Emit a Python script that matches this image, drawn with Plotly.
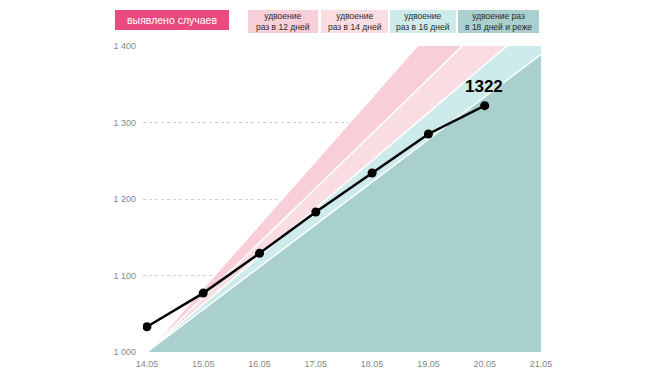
import plotly.graph_objects as go

# ---- data ----
dates = ["14.05", "15.05", "16.05", "17.05", "18.05", "19.05", "20.05", "21.05"]
cases = [1033, 1077, 1129, 1183, 1234, 1285, 1322]          # 14.05 .. 20.05
band_days = [18, 16, 14, 12]                                 # doubling periods
band_start = [1000, 1000, 1000, 1000]                        # value at 14.05
band_end = [1389, 1438, 1500, 1583]                          # value at 21.05
band_labels = ["удвоение раз<br>в 18 дней и реже", "удвоение<br>раз в 16 дней",
               "удвоение<br>раз в 14 дней", "удвоение<br>раз в 12 дней"]
band_colors = ["#a9cfce", "#cdebea", "#fadde3", "#f8cfd9"]
y_ticks = [1000, 1100, 1200, 1300, 1400]
y_ticktext = ["1 000", "1 100", "1 200", "1 300", "1 400"]
series_label = "выявлено случаев"

W, H = 659, 372
L, R, T, B = 143, 118, 46, 20
pw, ph = W - L - R, H - T - B

xs = list(range(len(dates)))
fig = go.Figure()

# baseline for fills
fig.add_trace(go.Scatter(x=[xs[0], xs[-1]], y=[band_start[0], band_start[0]],
                         mode="lines", line=dict(width=0, color="rgba(0,0,0,0)"),
                         hoverinfo="skip", showlegend=False))
for i in range(len(band_days)):
    fig.add_trace(go.Scatter(x=[xs[0], xs[-1]], y=[band_start[i], band_end[i]],
                             mode="lines", fill="tonexty", fillcolor=band_colors[i],
                             line=dict(color="white", width=1.5),
                             hoverinfo="skip", showlegend=False))

fig.add_trace(go.Scatter(x=xs[:len(cases)], y=cases, mode="lines+markers",
                         line=dict(color="black", width=2.5),
                         marker=dict(color="black", size=9),
                         showlegend=False))

fig.add_annotation(x=xs[len(cases) - 1], y=cases[-1], text="<b>%d</b>" % cases[-1],
                   showarrow=False, yshift=19, xshift=-1,
                   font=dict(size=17, color="black", family="Liberation Sans, Arial"))

def px2paper(x, y):
    return (x - L) / pw, (H - B - y) / ph

def box(x0, y0, x1, y1, color, text, tcolor, size):
    a0, b0 = px2paper(x0, y1)
    a1, b1 = px2paper(x1, y0)
    fig.add_shape(type="rect", xref="paper", yref="paper", x0=a0, x1=a1, y0=b0, y1=b1,
                  fillcolor=color, line=dict(width=0), layer="above")
    fig.add_annotation(xref="paper", yref="paper", x=(a0 + a1) / 2, y=(b0 + b1) / 2,
                       text=text, showarrow=False, xanchor="center", yanchor="middle",
                       font=dict(size=size, color=tcolor, family="Liberation Sans, Arial"))

box(115, 10, 229, 30, "#ea4a7e", series_label, "white", 10.5)
legend_px = [(458, 539), (390, 456), (321, 388), (248, 318)]
for (x0, x1), lab, col in zip(legend_px, band_labels, band_colors):
    box(x0, 10, x1, 33, col, lab, "#2b2b2b", 8.5)

fig.update_layout(
    width=W, height=H, margin=dict(l=L, r=R, t=T, b=B, autoexpand=False),
    paper_bgcolor="white", plot_bgcolor="white",
    font=dict(family="Liberation Sans, Arial", color="#888888", size=9),
    xaxis=dict(range=[-0.07, 7], tickvals=xs, ticktext=dates, showgrid=False,
               zeroline=False, showline=False, ticks="", automargin=False,
               ticklabelstandoff=5, tickfont=dict(size=9, color="#888888")),
    yaxis=dict(range=[1000, 1400], tickvals=y_ticks, ticktext=y_ticktext,
               showgrid=True, gridcolor="#d0d0d0", griddash="dot", gridwidth=1,
               zeroline=False, showline=False, ticks="", ticklabelstandoff=6,
               automargin=False, tickfont=dict(size=9, color="#888888")),
)

fig.write_html("out.html", config={"displayModeBar": False},
               post_script="document.body.style.margin='0';document.body.style.overflow='hidden';")
